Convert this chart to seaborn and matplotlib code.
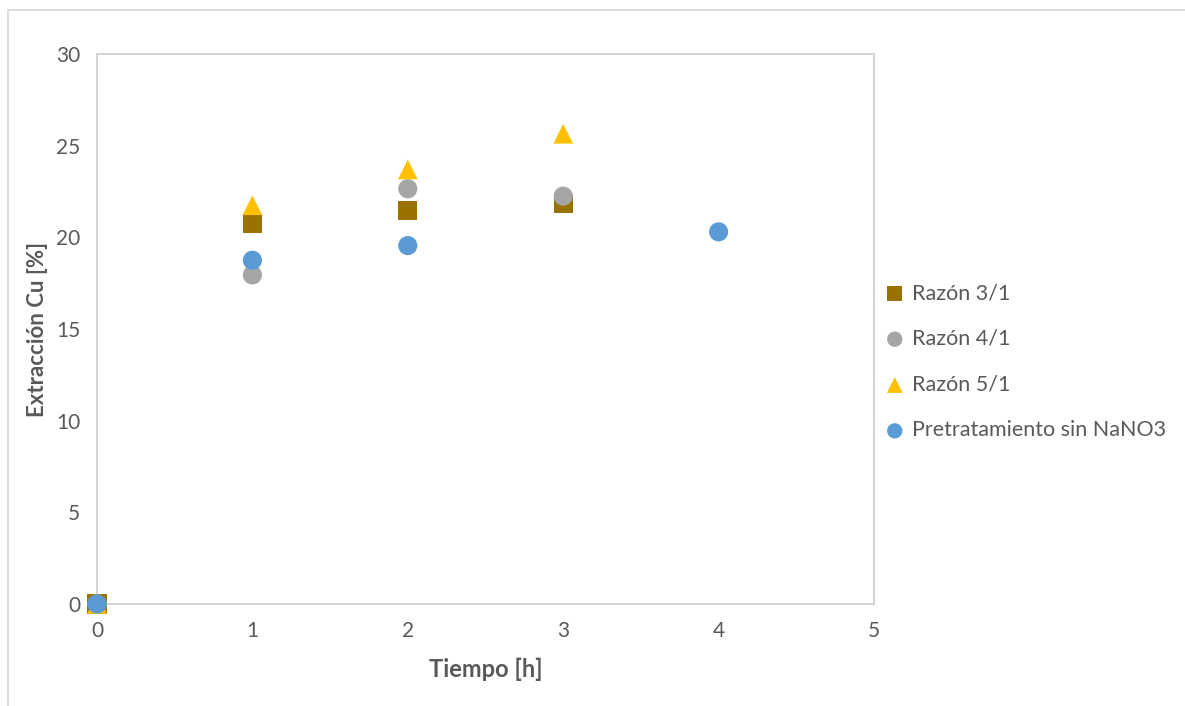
import matplotlib
matplotlib.use("Agg")
import matplotlib.pyplot as plt
import seaborn as sns
import pandas as pd
from matplotlib.patches import Rectangle

# Copper extraction vs time for each pretreatment ratio
series_names = ["Razón 3/1", "Razón 4/1", "Razón 5/1", "Pretratamiento sin NaNO3"]
t_31 = [0, 1, 2, 3]
y_31 = [0, 20.75, 21.45, 21.85]
t_41 = [0, 1, 2, 3]
y_41 = [0, 17.95, 22.65, 22.25]
t_51 = [0, 1, 2, 3]
y_51 = [0, 21.75, 23.7, 25.65]
t_sin = [0, 1, 2, 4]
y_sin = [0, 18.75, 19.55, 20.3]

x_ticks = [0, 1, 2, 3, 4, 5]
y_ticks = [0, 5, 10, 15, 20, 25, 30]

colors = ["#9A7200", "#A5A5A5", "#FFC000", "#5B9BD5"]
markers = ["s", "o", "^", "o"]
sizes = [190, 190, 200, 190]

frames = []
for name, t, y in zip(series_names, [t_31, t_41, t_51, t_sin], [y_31, y_41, y_51, y_sin]):
    frames.append(pd.DataFrame({"Tiempo": t, "Extraccion": y, "Serie": name}))
df = pd.concat(frames, ignore_index=True)

sns.set_style("white")
plt.rcParams["font.family"] = ["Lato", "DejaVu Sans"]
text_color = "#595959"

W, H = 1185, 706
fig = plt.figure(figsize=(W / 100, H / 100), dpi=100)
ax = fig.add_axes([97 / W, 1 - 604 / H, (874 - 97) / W, (604 - 54) / H])

for name, c, m, s in zip(series_names, colors, markers, sizes):
    sub = df[df["Serie"] == name]
    sns.scatterplot(data=sub, x="Tiempo", y="Extraccion", ax=ax, color=c,
                    marker=m, s=s, edgecolor="none", label=name, zorder=3,
                    clip_on=False)

ax.set_xlim(0, 5)
ax.set_ylim(0, 30)
ax.set_xticks(x_ticks)
ax.set_yticks(y_ticks)
ax.tick_params(axis="both", length=0, labelsize=15, labelcolor=text_color, pad=12)
for sp in ax.spines.values():
    sp.set_color("#D0D0D0")
    sp.set_linewidth(1.3)
    sp.set_visible(True)
ax.set_xlabel("Tiempo [h]", fontsize=17, fontweight="bold", color=text_color, labelpad=12)
ax.set_ylabel("Extracción Cu [%]", fontsize=16, fontweight="bold", color=text_color, labelpad=6)

leg = ax.legend(loc="upper left", bbox_to_anchor=(884 / W, 1 - 283 / H),
                bbox_transform=fig.transFigure, frameon=False,
                fontsize=15.5, labelcolor=text_color, handlelength=1.0,
                handletextpad=0.3, labelspacing=1.2, borderaxespad=0,
                borderpad=0, markerscale=0.8)

# outer chart frame
fig.patches.append(Rectangle((8 / W, -0.01), 1.2, 1 - 10 / H + 0.01,
                             transform=fig.transFigure, fill=False,
                             edgecolor="#D9D9D9", linewidth=1.3))

fig.savefig("out.png", dpi=100)
